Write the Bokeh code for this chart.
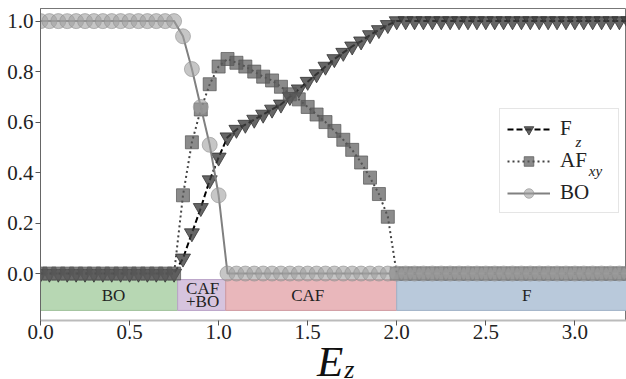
from bokeh.plotting import figure
from bokeh.layouts import column
from bokeh.models import Range1d, FixedTicker, Legend, LegendItem, Label, NumeralTickFormatter, Div
from bokeh.core.properties import value
from bokeh.embed import file_html
from bokeh.resources import INLINE

# ---------------- data ----------------
E = [0.00, 0.05, 0.10, 0.15, 0.20, 0.25, 0.30, 0.35, 0.40, 0.45, 0.50, 0.55, 0.60, 0.65, 0.70, 0.75,
     0.80, 0.85, 0.90, 0.95, 1.00, 1.05, 1.10, 1.15, 1.20, 1.25, 1.30, 1.35, 1.40, 1.45, 1.50, 1.55,
     1.60, 1.65, 1.70, 1.75, 1.80, 1.85, 1.90, 1.95, 2.00, 2.05, 2.10, 2.15, 2.20, 2.25, 2.30, 2.35,
     2.40, 2.45, 2.50, 2.55, 2.60, 2.65, 2.70, 2.75, 2.80, 2.85, 2.90, 2.95, 3.00, 3.05, 3.10, 3.15,
     3.20, 3.25, 3.30]

F_z = [0, 0, 0, 0, 0, 0, 0, 0, 0, 0, 0, 0, 0, 0, 0, 0,
       0.06, 0.16, 0.26, 0.37, 0.46, 0.54, 0.57, 0.59, 0.61, 0.63, 0.65, 0.67, 0.70, 0.73, 0.76, 0.79,
       0.82, 0.85, 0.875, 0.90, 0.92, 0.945, 0.965, 0.985,
       1.0, 1.0, 1.0, 1.0, 1.0, 1.0, 1.0, 1.0, 1.0, 1.0, 1.0, 1.0, 1.0, 1.0, 1.0, 1.0, 1.0, 1.0,
       1.0, 1.0, 1.0, 1.0, 1.0, 1.0, 1.0, 1.0, 1.0]

AF_xy = [0, 0, 0, 0, 0, 0, 0, 0, 0, 0, 0, 0, 0, 0, 0, 0,
         0.31, 0.52, 0.65, 0.75, 0.82, 0.85, 0.835, 0.82, 0.80, 0.78, 0.765, 0.74, 0.71, 0.69, 0.66, 0.63,
         0.60, 0.565, 0.53, 0.49, 0.44, 0.38, 0.315, 0.225,
         0, 0, 0, 0, 0, 0, 0, 0, 0, 0, 0, 0, 0, 0, 0, 0, 0, 0, 0, 0, 0, 0, 0, 0, 0, 0, 0]

BO = [1.0, 1.0, 1.0, 1.0, 1.0, 1.0, 1.0, 1.0, 1.0, 1.0, 1.0, 1.0, 1.0, 1.0, 1.0, 1.0,
      0.94, 0.81, 0.66, 0.51, 0.31, 0, 0, 0, 0, 0, 0, 0, 0, 0, 0, 0,
      0, 0, 0, 0, 0, 0, 0, 0,
      0, 0, 0, 0, 0, 0, 0, 0, 0, 0, 0, 0, 0, 0, 0, 0, 0, 0, 0, 0, 0, 0, 0, 0, 0, 0, 0]

phase_names = ["BO", "CAF\n+BO", "CAF", "F"]
phase_start = [0.0, 0.77, 1.04, 2.0]
phase_end = [0.77, 1.04, 2.0, 3.46]
phase_label_x = [0.41, 0.91, 1.50, 2.73]
phase_colors = ["#b7d7b3", "#d6c4de", "#e9b7bb", "#b9c9db"]
phase_edges = ["#9fc19b", "#b9a2c6", "#cf9ba0", "#9fb2c8"]

x_ticks = [0.0, 0.5, 1.0, 1.5, 2.0, 2.5, 3.0]
y_ticks = [0.0, 0.2, 0.4, 0.6, 0.8, 1.0]

SERIF = "Liberation Serif"

# ---------------- main figure ----------------
p = figure(width=626, height=347, output_backend="svg", toolbar_location=None, title=None,
           x_range=Range1d(0, 3.29), y_range=Range1d(-0.186, 1.05),
           min_border_left=40, min_border_right=0, min_border_top=8, min_border_bottom=27)
p.grid.visible = False
p.outline_line_color = "#777777"
p.background_fill_color = "white"

for ax in (p.xaxis[0], p.yaxis[0]):
    ax.major_label_text_font = SERIF
    ax.major_label_text_font_size = "21px"
    ax.major_label_text_color = "#222222"
    ax.major_tick_out = 5
    ax.major_tick_in = 0
    ax.minor_tick_out = 0
    ax.minor_tick_in = 0
    ax.major_tick_line_color = "#555555"
    ax.formatter = NumeralTickFormatter(format="0.0")
p.yaxis.major_label_standoff = 2
p.xaxis.major_label_standoff = -1
p.xaxis.ticker = FixedTicker(ticks=x_ticks)
p.yaxis.ticker = FixedTicker(ticks=y_ticks)
p.yaxis.axis_line_color = "#666666"
p.xaxis.axis_line_color = "#bbbbbb"
p.xaxis.axis_line_width = 2

# phase bands
band_bottom = -0.146
band_top = -0.024
p.quad(left=phase_start, right=phase_end, bottom=band_bottom, top=band_top,
       fill_color=phase_colors, line_color=phase_edges, line_width=1)
p.text(x=phase_label_x, y=[(band_bottom + band_top) / 2] * len(phase_names), text=phase_names,
       text_font=value(SERIF), text_font_size=value("17px"), text_align="center",
       text_baseline="middle", text_color="#222222", text_line_height=0.72)

# series
l1 = p.line(E, F_z, line_color="black", line_width=2, line_dash="6 3")
s1 = p.scatter(E, F_z, marker="inverted_triangle", size=15, fill_color="#404040", fill_alpha=0.8,
               line_color="#333333", line_alpha=0.8)
l2 = p.line(E, AF_xy, line_color="#444444", line_width=2, line_dash="2 3")
s2 = p.scatter(E, AF_xy, marker="square", size=13, fill_color="#5a5a5a", fill_alpha=0.7,
               line_color="#555555", line_alpha=0.7)
l3 = p.line(E, BO, line_color="#808080", line_width=2)
s3 = p.scatter(E, BO, marker="circle", size=15, fill_color="#a0a0a0", fill_alpha=0.6,
               line_color="#909090", line_alpha=0.6)

legend = Legend(items=[LegendItem(label="F", renderers=[l1, s1]),
                       LegendItem(label="AF", renderers=[l2, s2]),
                       LegendItem(label="BO", renderers=[l3, s3])],
                location=(459, 107), padding=7, spacing=7, margin=0,
                glyph_width=43, glyph_height=24, label_height=24, label_width=51,
                label_standoff=10, label_text_font=SERIF, label_text_font_size="21px",
                label_text_color="#222222", border_line_color="#cccccc", border_line_width=1,
                background_fill_color="white", background_fill_alpha=0.0)
p.add_layout(legend, "center")

# subscripts in legend labels
p.add_layout(Label(x=3.004, y=0.522, text="z", text_font=SERIF, text_font_size="15px",
                   text_font_style="italic", text_color="#222222", text_baseline="alphabetic"))
p.add_layout(Label(x=3.078, y=0.405, text="xy", text_font=SERIF, text_font_size="15px",
                   text_font_style="italic", text_color="#222222", text_baseline="alphabetic"))

# ---------------- x-axis title (E_z) as real HTML text ----------------
xlabel_html = (
    '<div style="padding-left:317px; margin:0; white-space:nowrap; line-height:29px; '
    'font-family:\'Liberation Serif\', serif; font-style:italic; color:#111111;">'
    '<span style="font-size:43px;">E</span>'
    '<span style="font-size:26px; line-height:0; position:relative; top:2px; left:1px;">z</span>'
    '</div>'
)
xlabel = Div(text=xlabel_html, width=626, height=32, margin=0)

layout = column(p, xlabel, spacing=0)
open("out.html", "w").write(file_html(layout, INLINE))
